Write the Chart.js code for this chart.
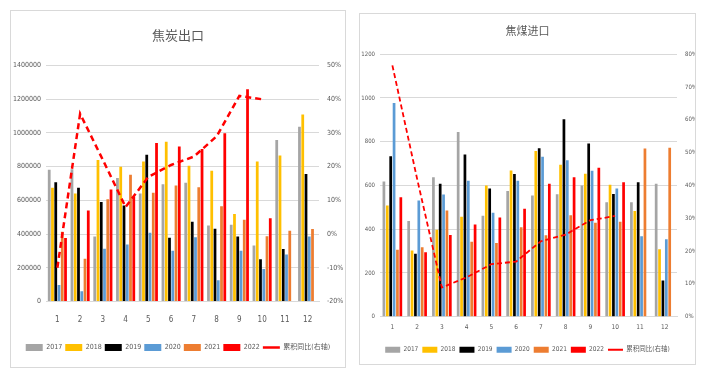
<!DOCTYPE html>
<html>
<head>
<meta charset="utf-8">
<script src="https://cdn.jsdelivr.net/npm/chart.js@4.4.0/dist/chart.umd.min.js"></script>
<style>
  body { margin: 0; background: #fff; width: 705px; height: 374px; position: relative; overflow: hidden; }
  .box { position: absolute; border: 1px solid #d9d9d9; background: #fff; }
  #box1 { left: 10px; top: 10px; width: 334px; height: 356px; }
  #box2 { left: 359px; top: 13px; width: 335px; height: 350px; }
  canvas { display: block; }
</style>
</head>
<body>
<div class="box" id="box1"><canvas id="cokeExportChart" width="334" height="356"></canvas></div>
<div class="box" id="box2"><canvas id="cokingCoalImportChart" width="335" height="350"></canvas></div>

<script>
const months = ['1', '2', '3', '4', '5', '6', '7', '8', '9', '10', '11', '12'];
const years = ['2017', '2018', '2019', '2020', '2021', '2022'];
const yoyLabel = '累积同比(右轴)';

// 焦炭出口 (吨)
const cokeExport2017 = [782000, 785000, 386000, 733000, 640000, 695000, 705000, 450000, 455000, 332000, 958000, 1037000];
const cokeExport2018 = [675000, 640000, 840000, 800000, 830000, 948000, 806000, 776000, 519000, 830000, 866000, 1109000];
const cokeExport2019 = [707000, 675000, 590000, 570000, 871000, 378000, 473000, 432000, 386000, 250000, 311000, 757000];
const cokeExport2020 = [98000, 60000, 313000, 338000, 407000, 300000, 381000, 125000, 301000, 193000, 278000, 386000];
const cokeExport2021 = [414000, 253000, 606000, 752000, 645000, 688000, 677000, 565000, 485000, 387000, 420000, 430000];
const cokeExport2022 = [376000, 540000, 665000, 622000, 940000, 920000, 905000, 998000, 1260000, 494000, null, null];
const cokeExportYoY = [-10, 35.7, 22, 8, 17, 20.5, 23, 29, 41, 40, null, null];

// 焦煤进口 (万吨)
const coalImport2017 = [618, 438, 637, 844, 461, 575, 554, 560, 600, 523, 523, 608];
const coalImport2018 = [508, 303, 398, 457, 600, 668, 758, 695, 654, 603, 483, 308];
const coalImport2019 = [734, 288, 608, 741, 586, 652, 770, 903, 792, 561, 615, 166];
const coalImport2020 = [977, 531, 559, 621, 475, 621, 731, 715, 667, 586, 368, 354];
const coalImport2021 = [306, 318, 486, 343, 337, 409, 372, 464, 429, 434, 769, 772];
const coalImport2022 = [546, 295, 374, 421, 454, 494, 608, 637, 681, 615, null, null];
const coalImportYoY = [76.6, 42, 8.9, 12, 16, 16.8, 23, 25, 29.4, 30.7, null, null];

const yearColors = ['#a5a5a5', '#ffc000', '#000000', '#5b9bd5', '#ed7d31', '#ff0000'];
const textColor = '#595959';
const gridColor = '#d9d9d9';
const narrow = '"Liberation Sans Narrow", "DejaVu Sans Condensed", "Liberation Sans", sans-serif';
const cjk = '"Noto Sans CJK SC", "Noto Sans", sans-serif';

function buildChart(canvasId, s) {
    const ctx = document.getElementById(canvasId).getContext('2d');
    const datasets = s.series.map((values, i) => ({
        type: 'bar',
        label: years[i],
        data: values,
        backgroundColor: yearColors[i],
        borderWidth: 0,
        pointStyle: 'rect',
        categoryPercentage: s.catPct,
        barPercentage: s.barPct,
        yAxisID: 'y',
        order: 2
    }));
    datasets.push({
        type: 'line',
        label: yoyLabel,
        data: s.yoy,
        borderColor: '#ff0000',
        backgroundColor: '#ff0000',
        borderWidth: s.lineWidth,
        borderDash: s.dash,
        pointRadius: 0,
        pointStyle: 'line',
        tension: 0,
        fill: false,
        yAxisID: 'y1',
        order: 1
    });

    new Chart(ctx, {
        type: 'bar',
        data: { labels: months, datasets: datasets },
        options: {
            responsive: false,
            animation: false,
            layout: { padding: s.padding },
            plugins: {
                title: {
                    display: true,
                    text: s.title,
                    color: textColor,
                    font: { family: cjk, size: s.titleSize, weight: 'normal' },
                    padding: s.titlePad
                },
                legend: {
                    position: 'bottom',
                    labels: {
                        usePointStyle: true,
                        pointStyleWidth: s.legendBox,
                        boxHeight: s.legendBoxH,
                        color: textColor,
                        font: { family: narrow + ', ' + cjk, size: s.legendFont },
                        padding: s.legendPad,
                        sort: (a, b) => a.datasetIndex - b.datasetIndex
                    }
                },
                tooltip: { enabled: false }
            },
            scales: {
                x: {
                    grid: { display: false, drawTicks: false },
                    border: { color: gridColor },
                    ticks: { color: textColor, font: { family: narrow, size: s.xFont }, padding: s.xPad, maxRotation: 0 },
                    afterFit: scale => { scale.height += s.xExtra; }
                },
                y: {
                    position: 'left',
                    min: s.yMin, max: s.yMax,
                    ticks: {
                        stepSize: s.yStep, color: textColor, font: { family: narrow, size: s.tickFont }, padding: s.yPad,
                        callback: v => String(v)
                    },
                    grid: { color: gridColor, drawTicks: false },
                    border: { display: false },
                    afterFit: scale => { scale.width = s.yWidth; }
                },
                y1: {
                    position: 'right',
                    min: s.y1Min, max: s.y1Max,
                    ticks: {
                        stepSize: 10, color: textColor, font: { family: narrow, size: s.tickFont }, padding: s.y1Pad,
                        callback: v => v + '%'
                    },
                    grid: { display: false, drawTicks: false },
                    border: { display: false },
                    afterFit: scale => { scale.width = s.y1Width; }
                }
            }
        }
    });
}

buildChart('cokeExportChart', {
    title: '焦炭出口',
    series: [cokeExport2017, cokeExport2018, cokeExport2019, cokeExport2020, cokeExport2021, cokeExport2022],
    yoy: cokeExportYoY,
    yMin: 0, yMax: 1400000, yStep: 200000,
    y1Min: -20, y1Max: 50,
    catPct: 0.86, barPct: 0.85,
    lineWidth: 2.5, dash: [6, 4],
    titleSize: 13, titlePad: { top: 16, bottom: 23 },
    tickFont: 7, xFont: 8, xPad: 14, xExtra: 2, yPad: 5, y1Pad: 8,
    yWidth: 35, y1Width: 26,
    legendBox: 17, legendBoxH: 8, legendFont: 7, legendPad: 3,
    padding: { left: 0, right: 0, top: 0, bottom: 6 }
});

buildChart('cokingCoalImportChart', {
    title: '焦煤进口',
    series: [coalImport2017, coalImport2018, coalImport2019, coalImport2020, coalImport2021, coalImport2022],
    yoy: coalImportYoY,
    yMin: 0, yMax: 1200, yStep: 200,
    y1Min: 0, y1Max: 80,
    catPct: 0.82, barPct: 0.8,
    lineWidth: 1.8, dash: [5, 3],
    titleSize: 11, titlePad: { top: 10, bottom: 17 },
    tickFont: 6, xFont: 6.5, xPad: 7, xExtra: 4, yPad: 5, y1Pad: 8,
    yWidth: 20, y1Width: 18,
    legendBox: 15, legendBoxH: 6, legendFont: 6.5, legendPad: 4,
    padding: { left: 0, right: 0, top: 0, bottom: 1 }
});
</script>
</body>
</html>
